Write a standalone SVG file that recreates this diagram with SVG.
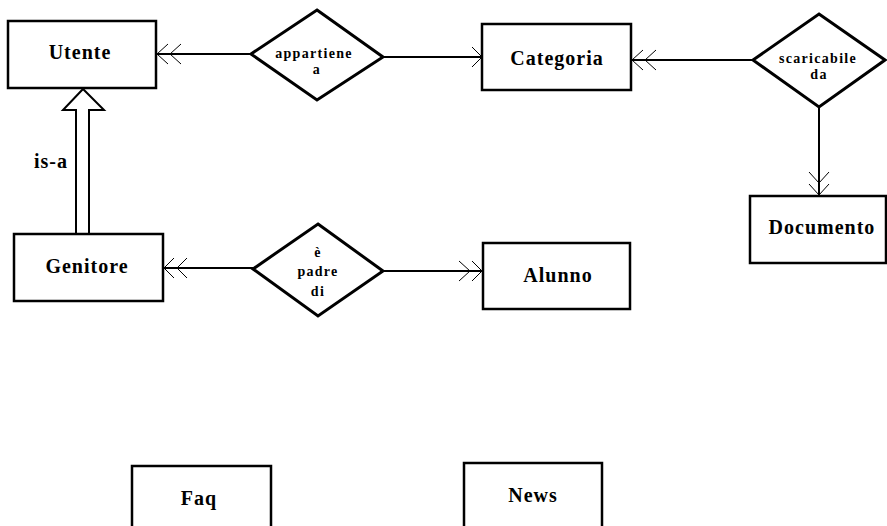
<svg xmlns="http://www.w3.org/2000/svg" width="887" height="526" viewBox="0 0 887 526">
<style>
.box{fill:#fff;stroke:#000;stroke-width:2.5}
.rel{fill:#fff;stroke:#000;stroke-width:3;stroke-linejoin:miter}
.ln{stroke:#000;stroke-width:2;fill:none}
.chev{stroke:#000;stroke-width:1;fill:none}
.t{font-family:'Liberation Serif','Times New Roman','DejaVu Serif',serif;font-weight:bold;font-size:20px;letter-spacing:1px;text-anchor:middle;fill:#000}
.s{font-family:'Liberation Serif','Times New Roman','DejaVu Serif',serif;font-weight:bold;font-size:14px;letter-spacing:1.3px;text-anchor:middle;fill:#000}
</style>
<rect width="887" height="526" fill="#fff"/>
<g id="connectors">
<line class="ln" x1="156" y1="54" x2="251" y2="54"/>
<path class="chev" d="M168,44 L157,54 L168,64 M181,44 L170,54 L181,64"/>
<line class="ln" x1="383" y1="57" x2="482" y2="57"/>
<path class="chev" d="M472,47 L482,57 L472,67"/>
<line class="ln" x1="631" y1="60" x2="753" y2="60"/>
<path class="chev" d="M643,50 L632,60 L643,70 M656,50 L645,60 L656,70"/>
<line class="ln" x1="819" y1="107" x2="819" y2="196"/>
<path class="chev" d="M809,184 L819,195 L829,184 M809,172 L819,183 L829,172"/>
<line class="ln" x1="163" y1="268" x2="253" y2="268"/>
<path class="chev" d="M174,258 L164,268 L174,278 M187,258 L177,268 L187,278"/>
<line class="ln" x1="383" y1="271" x2="483" y2="271"/>
<path class="chev" d="M459,261 L470,271 L459,281 M472,261 L482,271 L472,281"/>
<path class="ln" d="M76,233 L76,110 L63,110 L83,89 L104,110 L89,110 L89,233" stroke-width="2.5"/>
<text class="t" x="51" y="168">is-a</text>
</g>
<g id="utente"><rect class="box" x="8" y="21" width="148" height="67"/><text class="t" x="80" y="59">Utente</text></g>
<g id="appartiene"><polygon class="rel" points="317,10 383,57 317,100 251,54"/><text class="s" x="314" y="58">appartiene</text><text class="s" x="317" y="74">a</text></g>
<g id="categoria"><rect class="box" x="482" y="24" width="149" height="66"/><text class="t" x="557" y="65">Categoria</text></g>
<g id="scaricabile"><polygon class="rel" points="819,14 885,60 819,107 753,60"/><text class="s" x="818" y="63">scaricabile</text><text class="s" x="819" y="79">da</text></g>
<g id="documento"><rect class="box" x="750" y="196" width="136" height="67"/><text class="t" x="822" y="234">Documento</text></g>
<g id="genitore"><rect class="box" x="14" y="234" width="149" height="67"/><text class="t" x="87" y="273">Genitore</text></g>
<g id="padre"><polygon class="rel" points="318,224 383,271 318,316 253,269"/><text class="s" x="318" y="257">è</text><text class="s" x="318" y="276">padre</text><text class="s" x="318" y="296">di</text></g>
<g id="alunno"><rect class="box" x="483" y="243" width="147" height="66"/><text class="t" x="558" y="282">Alunno</text></g>
<g id="faq"><rect class="box" x="132" y="466" width="139" height="70"/><text class="t" x="199" y="505">Faq</text></g>
<g id="news"><rect class="box" x="464" y="463" width="138" height="73"/><text class="t" x="533" y="502">News</text></g>
</svg>
